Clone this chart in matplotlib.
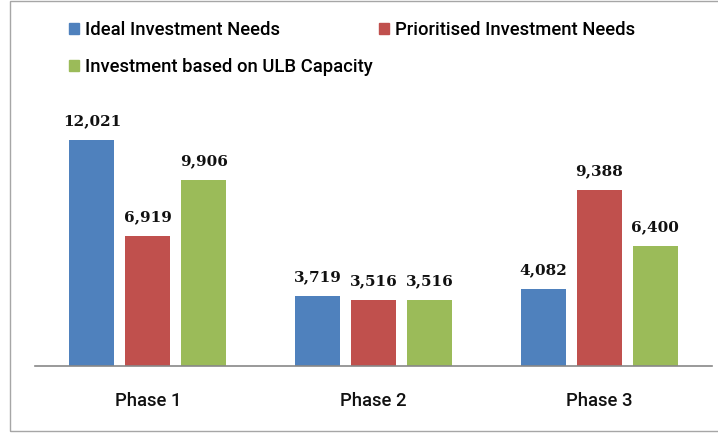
import matplotlib
matplotlib.use("Agg")
import matplotlib.pyplot as plt
import numpy as np
from matplotlib.patches import Rectangle, Patch

categories = ["Phase 1", "Phase 2", "Phase 3"]
series_names = ["Ideal Investment Needs", "Prioritised Investment Needs",
                "Investment based on ULB Capacity"]
ideal = [12021, 3719, 4082]
prioritised = [6919, 3516, 9388]
ulb_capacity = [9906, 3516, 6400]
colors = ["#4F81BD", "#C0504D", "#9BBB59"]

W, H = 718, 434
fig = plt.figure(figsize=(W / 100, H / 100), dpi=100)

# outer chart border
fig.patches.append(Rectangle((10 / W, 1 - 431 / H), 720 / W, 430 / H,
                             transform=fig.transFigure, fill=False,
                             edgecolor="#A6A6A6", lw=1.0))

ax = fig.add_axes([35 / W, 1 - 366 / H, 677 / W, 263 / H])
x = np.arange(len(categories))
width = 0.2
offsets = [-0.248, 0.0, 0.248]
all_series = [ideal, prioritised, ulb_capacity]
label_font = dict(family="DejaVu Serif", weight="bold", size=11)
for vals, off, col, name in zip(all_series, offsets, colors, series_names):
    bars = ax.bar(x + off, vals, width, color=col, label=name, zorder=2)
    for b, v in zip(bars, vals):
        ax.annotate(f"{v:,}", (b.get_x() + b.get_width() / 2, v),
                    xytext=(0, 8.5), textcoords="offset points",
                    ha="center", va="bottom", color="#111111", **label_font)

ax.set_xlim(-0.5, 2.5)
ax.set_ylim(0, 14000)
ax.set_yticks([])
ax.set_xticks(x)
ax.set_xticklabels(categories, family="Roboto", size=13.3, weight="medium",
                   color="#111111")
ax.tick_params(axis="x", length=0, pad=19)
for s in ["left", "right", "top"]:
    ax.spines[s].set_visible(False)
ax.spines["bottom"].set_color("#888888")
ax.spines["bottom"].set_linewidth(1.2)

handles = [Patch(color=colors[0]), Patch(color=colors[2]), Patch(color=colors[1])]
labels = [series_names[0], series_names[2], series_names[1]]
fig.legend(handles, labels, loc="upper left", bbox_to_anchor=(69 / W, 1 - 21 / H),
           ncol=2, frameon=False,
           prop=dict(family="Roboto", size=13.3, weight="medium"),
           handlelength=0.55, handleheight=0.55, handletextpad=0.3,
           labelspacing=1.05, columnspacing=0.35, borderpad=0, borderaxespad=0)

fig.savefig("out.png", dpi=100)
